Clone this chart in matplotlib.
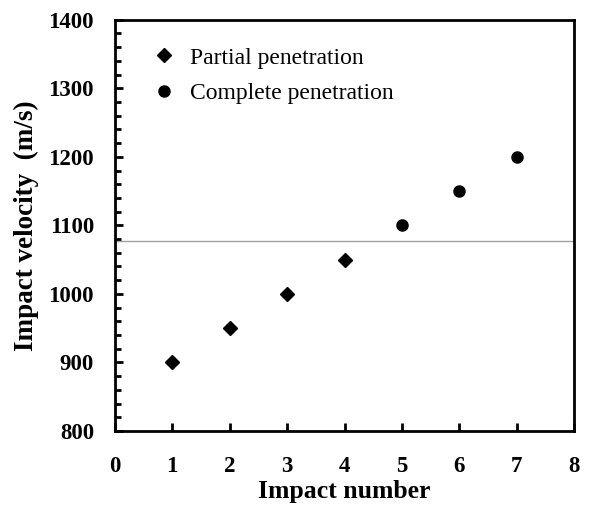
import matplotlib.pyplot as plt
from matplotlib.ticker import MultipleLocator

# impact tests: shot number vs. striking velocity
partial_shots = [1, 2, 3, 4]
partial_velocity = [900, 950, 1000, 1050]
complete_shots = [5, 6, 7]
complete_velocity = [1100, 1150, 1200]
ballistic_limit = 1077

plt.rcParams['font.family'] = ['Liberation Serif', 'DejaVu Serif']

fig = plt.figure(figsize=(5.89, 5.07), dpi=100)
ax = fig.add_axes([0.195, 0.150, 0.780, 0.811])

ax.axhline(ballistic_limit, color='#a0a0a0', lw=1.0, zorder=1)
ax.plot(partial_shots, partial_velocity, 'D', color='black', ms=7,
        ls='none', label='Partial penetration', zorder=3)
ax.plot(complete_shots, complete_velocity, 'o', color='black', ms=8,
        ls='none', label='Complete penetration', zorder=3)

ax.set_xlim(0, 8)
ax.set_ylim(800, 1400)
ax.xaxis.set_major_locator(MultipleLocator(1))
ax.yaxis.set_major_locator(MultipleLocator(100))
ax.yaxis.set_minor_locator(MultipleLocator(20))

ax.tick_params(axis='both', which='both', direction='in', top=False, right=False)
ax.tick_params(axis='both', which='major', length=6, width=2, labelsize=16.5)
ax.tick_params(axis='x', which='major', pad=18)
ax.tick_params(axis='y', which='major', pad=15)
ax.tick_params(axis='y', which='minor', length=4, width=2)
for lab in ax.get_xticklabels() + ax.get_yticklabels():
    lab.set_fontweight('bold')

for sp in ax.spines.values():
    sp.set_linewidth(2)

ax.set_xlabel('Impact number', fontsize=18.5, fontweight='bold', labelpad=2)
ax.set_ylabel('Impact velocity  (m/s)', fontsize=19.5, fontweight='bold')
ax.yaxis.set_label_coords(-0.166, 0.5)

ax.legend(loc='upper left', bbox_to_anchor=(0.03, 0.985), frameon=False,
          fontsize=17, handletextpad=0.5, labelspacing=0.6, handlelength=1.2)

fig.savefig('out.png', dpi=100)
